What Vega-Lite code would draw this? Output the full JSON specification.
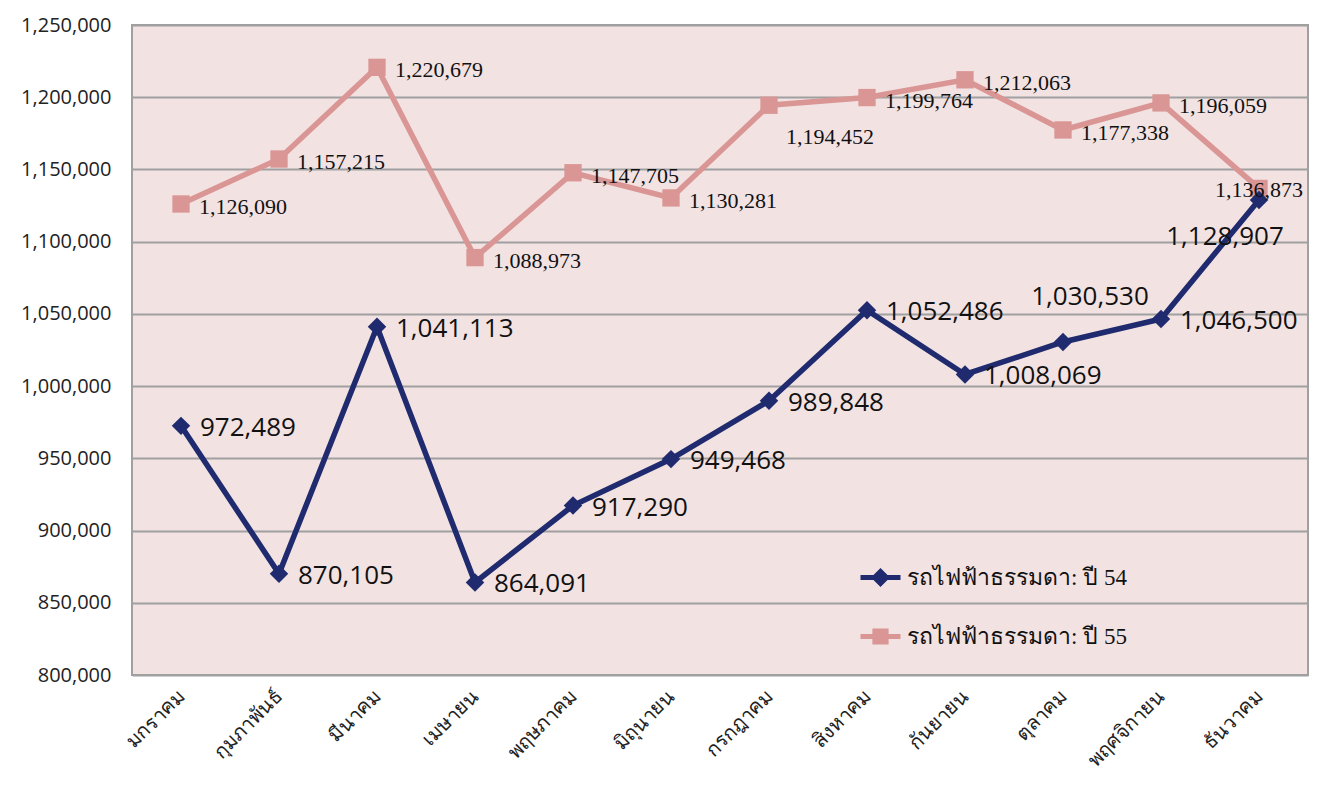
{
  "$schema": "https://vega.github.io/schema/vega-lite/v6.json",
  "width": 1176,
  "height": 650,
  "autosize": {"type": "none"},
  "padding": {"left": 132, "top": 25, "right": 9, "bottom": 121},
  "background": "white",
  "config": {
    "view": {"fill": "#f2e2e2", "stroke": "#a0a0a0", "strokeWidth": 2}
  },
  "data": {
    "values": [
      {"month": "มกราคม", "series": "รถไฟฟ้าธรรมดา: ปี 54", "value": 972489},
      {"month": "กุมภาพันธ์", "series": "รถไฟฟ้าธรรมดา: ปี 54", "value": 870105},
      {"month": "มีนาคม", "series": "รถไฟฟ้าธรรมดา: ปี 54", "value": 1041113},
      {"month": "เมษายน", "series": "รถไฟฟ้าธรรมดา: ปี 54", "value": 864091},
      {"month": "พฤษภาคม", "series": "รถไฟฟ้าธรรมดา: ปี 54", "value": 917290},
      {"month": "มิถุนายน", "series": "รถไฟฟ้าธรรมดา: ปี 54", "value": 949468},
      {"month": "กรกฎาคม", "series": "รถไฟฟ้าธรรมดา: ปี 54", "value": 989848},
      {"month": "สิงหาคม", "series": "รถไฟฟ้าธรรมดา: ปี 54", "value": 1052486},
      {"month": "กันยายน", "series": "รถไฟฟ้าธรรมดา: ปี 54", "value": 1008069},
      {"month": "ตุลาคม", "series": "รถไฟฟ้าธรรมดา: ปี 54", "value": 1030530},
      {"month": "พฤศจิกายน", "series": "รถไฟฟ้าธรรมดา: ปี 54", "value": 1046500},
      {"month": "ธันวาคม", "series": "รถไฟฟ้าธรรมดา: ปี 54", "value": 1128907},
      {"month": "มกราคม", "series": "รถไฟฟ้าธรรมดา: ปี 55", "value": 1126090},
      {"month": "กุมภาพันธ์", "series": "รถไฟฟ้าธรรมดา: ปี 55", "value": 1157215},
      {"month": "มีนาคม", "series": "รถไฟฟ้าธรรมดา: ปี 55", "value": 1220679},
      {"month": "เมษายน", "series": "รถไฟฟ้าธรรมดา: ปี 55", "value": 1088973},
      {"month": "พฤษภาคม", "series": "รถไฟฟ้าธรรมดา: ปี 55", "value": 1147705},
      {"month": "มิถุนายน", "series": "รถไฟฟ้าธรรมดา: ปี 55", "value": 1130281},
      {"month": "กรกฎาคม", "series": "รถไฟฟ้าธรรมดา: ปี 55", "value": 1194452},
      {"month": "สิงหาคม", "series": "รถไฟฟ้าธรรมดา: ปี 55", "value": 1199764},
      {"month": "กันยายน", "series": "รถไฟฟ้าธรรมดา: ปี 55", "value": 1212063},
      {"month": "ตุลาคม", "series": "รถไฟฟ้าธรรมดา: ปี 55", "value": 1177338},
      {"month": "พฤศจิกายน", "series": "รถไฟฟ้าธรรมดา: ปี 55", "value": 1196059},
      {"month": "ธันวาคม", "series": "รถไฟฟ้าธรรมดา: ปี 55", "value": 1136873}
    ]
  },
  "encoding": {
    "x": {
      "field": "month",
      "type": "nominal",
      "sort": ["มกราคม", "กุมภาพันธ์", "มีนาคม", "เมษายน", "พฤษภาคม", "มิถุนายน", "กรกฎาคม", "สิงหาคม", "กันยายน", "ตุลาคม", "พฤศจิกายน", "ธันวาคม"],
      "scale": {"type": "point", "padding": 0.5},
      "axis": {
        "title": null,
        "ticks": false,
        "domain": false,
        "labelAngle": -45,
        "labelAlign": "right",
        "labelBaseline": "middle",
        "labelPadding": 18,
        "labelFont": "Noto Sans",
        "labelFontSize": 20,
        "labelColor": "#222222"
      }
    },
    "y": {
      "field": "value",
      "type": "quantitative",
      "scale": {"domain": [800000, 1250000], "nice": false, "zero": false},
      "axis": {
        "title": null,
        "values": [800000, 850000, 900000, 950000, 1000000, 1050000, 1100000, 1150000, 1200000, 1250000],
        "format": ",d",
        "ticks": false,
        "domain": false,
        "gridColor": "#a0a0a0",
        "gridWidth": 2,
        "labelPadding": 21,
        "labelFont": "Open Sans",
        "labelFontSize": 20,
        "labelColor": "#222222"
      }
    }
  },
  "layer": [
    {
      "transform": [{"filter": "datum.series == 'รถไฟฟ้าธรรมดา: ปี 55'"}],
      "mark": {"type": "line", "strokeWidth": 5.5},
      "encoding": {
        "color": {
          "field": "series",
          "type": "nominal",
          "scale": {"domain": ["รถไฟฟ้าธรรมดา: ปี 54", "รถไฟฟ้าธรรมดา: ปี 55"], "range": ["#1f2b6e", "#d99694"]},
          "legend": {
            "title": null,
            "orient": "none",
            "legendX": 726,
            "legendY": 530,
            "symbolSize": 1600,
            "rowPadding": 20,
            "labelOffset": 4,
            "labelFont": "Liberation Serif",
            "labelFontSize": 23,
            "labelColor": "#111111",
            "labelLimit": 400,
            "encode": {
              "symbols": {
                "update": {
                  "shape": {"signal": "datum.value == 'รถไฟฟ้าธรรมดา: ปี 54' ? 'M-1,0H1M0,-0.3L0.3,0L0,0.3L-0.3,0Z' : 'M-1,0H1M-0.28,-0.28H0.28V0.28H-0.28Z'"},
                  "fill": {"scale": "color", "field": "value"},
                  "stroke": {"scale": "color", "field": "value"},
                  "strokeWidth": {"value": 5},
                  "opacity": {"value": 1}
                }
              }
            }
          }
        }
      }
    },
    {
      "transform": [{"filter": "datum.series == 'รถไฟฟ้าธรรมดา: ปี 55'"}],
      "mark": {"type": "point", "shape": "square", "filled": true, "size": 300, "opacity": 1},
      "encoding": {"color": {"field": "series", "type": "nominal"}}
    },
    {
      "transform": [{"filter": "datum.series == 'รถไฟฟ้าธรรมดา: ปี 54'"}],
      "mark": {"type": "line", "strokeWidth": 5.5},
      "encoding": {"color": {"field": "series", "type": "nominal"}}
    },
    {
      "transform": [{"filter": "datum.series == 'รถไฟฟ้าธรรมดา: ปี 54'"}],
      "mark": {"type": "point", "shape": "diamond", "filled": true, "size": 340, "opacity": 1},
      "encoding": {"color": {"field": "series", "type": "nominal"}}
    },
    {
      "transform": [{"filter": "datum.series == 'รถไฟฟ้าธรรมดา: ปี 54' && datum.month != 'ตุลาคม' && datum.month != 'ธันวาคม'"}],
      "mark": {"type": "text", "align": "left", "baseline": "middle", "dx": 19, "dy": 2, "font": "Open Sans", "fontSize": 26, "color": "#111111"},
      "encoding": {"text": {"field": "value", "type": "quantitative", "format": ",d"}}
    },
    {
      "transform": [{"filter": "datum.series == 'รถไฟฟ้าธรรมดา: ปี 54' && datum.month == 'ตุลาคม'"}],
      "mark": {"type": "text", "align": "center", "baseline": "middle", "dx": 27, "dy": -45, "font": "Open Sans", "fontSize": 26, "color": "#111111"},
      "encoding": {"text": {"field": "value", "type": "quantitative", "format": ",d"}}
    },
    {
      "transform": [{"filter": "datum.series == 'รถไฟฟ้าธรรมดา: ปี 54' && datum.month == 'ธันวาคม'"}],
      "mark": {"type": "text", "align": "center", "baseline": "middle", "dx": -34, "dy": 37, "font": "Open Sans", "fontSize": 26, "color": "#111111"},
      "encoding": {"text": {"field": "value", "type": "quantitative", "format": ",d"}}
    },
    {
      "transform": [{"filter": "datum.series == 'รถไฟฟ้าธรรมดา: ปี 55' && datum.month != 'กรกฎาคม' && datum.month != 'ธันวาคม'"}],
      "mark": {"type": "text", "align": "left", "baseline": "middle", "dx": 18, "dy": 3, "font": "Liberation Serif", "fontSize": 22, "color": "#111111"},
      "encoding": {"text": {"field": "value", "type": "quantitative", "format": ",d"}}
    },
    {
      "transform": [{"filter": "datum.series == 'รถไฟฟ้าธรรมดา: ปี 55' && datum.month == 'กรกฎาคม'"}],
      "mark": {"type": "text", "align": "center", "baseline": "middle", "dx": 61, "dy": 32, "font": "Liberation Serif", "fontSize": 22, "color": "#111111"},
      "encoding": {"text": {"field": "value", "type": "quantitative", "format": ",d"}}
    },
    {
      "transform": [{"filter": "datum.series == 'รถไฟฟ้าธรรมดา: ปี 55' && datum.month == 'ธันวาคม'"}],
      "mark": {"type": "text", "align": "center", "baseline": "middle", "dx": 0, "dy": 2, "font": "Liberation Serif", "fontSize": 22, "color": "#111111"},
      "encoding": {"text": {"field": "value", "type": "quantitative", "format": ",d"}}
    }
  ]
}
